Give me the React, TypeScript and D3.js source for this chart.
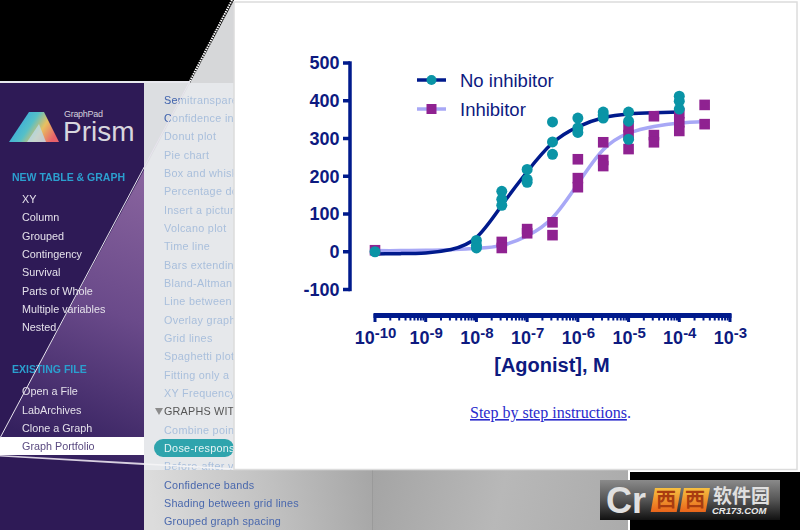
import React from "react";
import * as d3 from "d3";

const yTicks = [-100, 0, 100, 200, 300, 400, 500];
const xExps = [-10, -9, -8, -7, -6, -5, -4, -3];

const teal: [number, number][] = [
  [-10, 0],
  [-8, 30], [-8, 17], [-8, 10],
  [-7.5, 160], [-7.5, 139], [-7.5, 123],
  [-7, 218], [-7, 192], [-7, 184],
  [-6.5, 344], [-6.5, 291], [-6.5, 258],
  [-6, 354], [-6, 328], [-6, 316],
  [-5.5, 370], [-5.5, 362], [-5.5, 354],
  [-5, 370], [-5, 346], [-5, 298],
  [-4, 412], [-4, 399], [-4, 378],
];
const purple: [number, number][] = [
  [-10, 4],
  [-7.5, 26], [-7.5, 10],
  [-7, 60], [-7, 49],
  [-6.5, 78], [-6.5, 44],
  [-6, 245], [-6, 195], [-6, 171],
  [-5.5, 290], [-5.5, 243], [-5.5, 227],
  [-5, 330], [-5, 309], [-5, 272],
  [-4.5, 359], [-4.5, 309], [-4.5, 290],
  [-4, 367], [-4, 343], [-4, 320],
  [-3.5, 389], [-3.5, 338],
];
const curveDark: [number, number][] = [
  [-10, -6], [-9.5, -5], [-9, -3], [-8.5, 6], [-8, 38], [-7.5, 123], [-7, 212],
  [-6.5, 288], [-6, 331], [-5.5, 355], [-5, 365], [-4.5, 368], [-4, 370],
];
const curveLight: [number, number][] = [
  [-10, 3], [-9.5, 3], [-9, 4], [-8.5, 5], [-8, 9], [-7.5, 17], [-7, 42], [-6.5, 90],
  [-6, 180], [-5.5, 270], [-5, 314], [-4.5, 332], [-4, 341], [-3.5, 345],
];

const menuLeft: [string, number][] = [
  ["XY", 199], ["Column", 217], ["Grouped", 236], ["Contingency", 254], ["Survival", 272],
  ["Parts of Whole", 291], ["Multiple variables", 309], ["Nested", 327],
  ["Open a File", 391], ["LabArchives", 410], ["Clone a Graph", 428],
];
const menuMid: [string, number][] = [
  ["Semitransparent", 100], ["Confidence intervals", 118], ["Donut plot", 136], ["Pie chart", 155],
  ["Box and whiskers", 173], ["Percentage done", 191], ["Insert a picture", 210], ["Volcano plot", 228],
  ["Time line", 246], ["Bars extending", 265], ["Bland-Altman", 283], ["Line between", 301],
  ["Overlay graphs", 320], ["Grid lines", 338], ["Spaghetti plot", 356], ["Fitting only a", 375],
  ["XY Frequency", 393], ["Combine points", 430], ["Before-after v", 466],
];
const menuMidTop: [string, number][] = [
  ["Semitransparent", 100], ["Confidence intervals", 118],
];
const menuMidDark: [string, number][] = [
  ["Confidence bands", 485], ["Shading between grid lines", 503], ["Grouped graph spacing", 521],
];

const NAVY = "#001a8c";
const TEXT = "#0d1a80";
const TEAL = "#0a94a6";
const PURPLE = "#8f2291";
const LIGHT = "#a8a8f6";
const SANS = "'Liberation Sans', Arial, sans-serif";

const x = d3.scaleLog().domain([1e-10, 1e-3]).range([375, 730]);
const y = d3.scaleLinear().domain([-100, 500]).range([289.5, 63]);
const px = (e: number) => x(Math.pow(10, e));
const line = d3.line<[number, number]>().x((d) => px(d[0])).y((d) => y(d[1])).curve(d3.curveNatural);
const minorTicks = x.ticks().filter((t) => !xExps.some((e) => Math.abs(Math.log10(t) - e) < 1e-6));

export default function App() {
  return (
    <svg width={800} height={530} style={{ position: "fixed", left: 0, top: 0, display: "block" }}>
      <defs>
        <linearGradient id="cone" x1="150" y1="170" x2="40" y2="440" gradientUnits="userSpaceOnUse">
          <stop offset="0" stopColor="#8a659f" />
          <stop offset="0.5" stopColor="#6a4a8a" />
          <stop offset="1" stopColor="#35215f" />
        </linearGradient>
        <linearGradient id="bottomGrey" x1="150" y1="500" x2="372" y2="470" gradientUnits="userSpaceOnUse">
          <stop offset="0" stopColor="#dcdcdc" />
          <stop offset="0.55" stopColor="#c0c0c0" />
          <stop offset="1" stopColor="#a6a6a6" />
        </linearGradient>
        <linearGradient id="rightGrey" x1="372" y1="470" x2="628" y2="530" gradientUnits="userSpaceOnUse">
          <stop offset="0" stopColor="#a4a4a4" />
          <stop offset="0.5" stopColor="#b8b8b8" />
          <stop offset="1" stopColor="#ababab" />
        </linearGradient>
        <linearGradient id="wm" x1="0" y1="0" x2="0" y2="1">
          <stop offset="0" stopColor="#8a8a8a" />
          <stop offset="0.5" stopColor="#555" />
          <stop offset="1" stopColor="#111" />
        </linearGradient>
        <linearGradient id="wmO" x1="0" y1="0" x2="0" y2="1">
          <stop offset="0" stopColor="#f7c040" />
          <stop offset="1" stopColor="#e8641a" />
        </linearGradient>
        <linearGradient id="prism" x1="0" y1="0.2" x2="1" y2="0.6">
          <stop offset="0" stopColor="#2a9fe6" />
          <stop offset="0.45" stopColor="#55c0c8" />
          <stop offset="0.7" stopColor="#e8c060" />
          <stop offset="1" stopColor="#e8606a" />
        </linearGradient>
        <clipPath id="outsideCone"><polygon points="144,83 190,83 144,170" /></clipPath>
        <filter id="blur"><feGaussianBlur stdDeviation="0.35" /></filter>
      </defs>

      {/* backdrop */}
      <rect width={800} height={530} fill="#ffffff" />
      <rect width={234} height={83} fill="#000" />
      <rect x={628} y={470} width={172} height={60} fill="#000" />
      <rect x={628} y={470} width={172} height={2} fill="#fff" />
      <rect x={628} y={470} width={2} height={60} fill="#fff" />

      {/* left sidebar */}
      <rect x={0} y={83} width={144} height={447} fill="#2e1a56" />
      <polygon points="144,170 0,438 0,455 144,464" fill="url(#cone)" />
      <rect x={0} y={437} width={144} height={18} fill="#ffffff" />
      <polygon points="0,455 144,463 144,465 0,456.5" fill="#d8d0e0" />
      <rect x={0} y={81} width={190} height={2} fill="#e8e8ee" />

      {/* middle list */}
      <rect x={144} y={83} width={90} height={387} fill="#e6e8eb" />
      <polygon points="234,0 190,83 234,83" fill="#d6d7d9" />
      <polygon points="190,83 144,170 144,83" fill="#dcdee1" />
      <rect x={144} y={470} width={228} height={60} fill="url(#bottomGrey)" />
      <rect x={372} y={470} width={256} height={60} fill="url(#rightGrey)" />
      <rect x={372} y={470} width={1} height={60} fill="#9a9a9a" />
      <rect x={154} y={439} width={80} height={18} rx={9} fill="#2fa4ad" />

      {/* logo */}
      <polygon points="9,142 29,112 44,112 59,142" fill="url(#prism)" />
      <polygon points="27,142 39,124 46,142" fill="#bcdcf0" opacity={0.75} />
      <text x={64} y={117} fontFamily={SANS} fontSize={9} letterSpacing={-0.3} fill="#d4d0dc">GraphPad</text>
      <text x={63} y={141} fontFamily={SANS} fontSize={28} fill="#d8d6de">Prism</text>

      <g fontFamily={SANS} filter="url(#blur)">
        <text x={12} y={181} fontSize={10.5} fontWeight="bold" fill="#2c9fcf">NEW TABLE &amp; GRAPH</text>
        <text x={12} y={373} fontSize={10.5} fontWeight="bold" fill="#2c9fcf">EXISTING FILE</text>
        {menuLeft.map(([t, yy]) => (
          <text key={t} x={22} y={yy + 4} fontSize={10.8} fill="#e4e0ea">{t}</text>
        ))}
        <text x={22} y={450} fontSize={10.8} fill="#5a4a80">Graph Portfolio</text>
        {menuMid.map(([t, yy]) => (
          <text key={t} x={164} y={yy + 4} fontSize={10.8} letterSpacing={0.3} fill="#a9bfdc">{t}</text>
        ))}
        <g clipPath="url(#outsideCone)">
          {menuMidTop.map(([t, yy]) => (
            <text key={t} x={164} y={yy + 4} fontSize={10.8} letterSpacing={0.3} fill="#4a68ad">{t}</text>
          ))}
        </g>
        {menuMidDark.map(([t, yy]) => (
          <text key={t} x={164} y={yy + 4} fontSize={10.8} letterSpacing={0.2} fill="#4a68ad">{t}</text>
        ))}
        <polygon points="155,408 163,408 159,415" fill="#8c8c8c" />
        <text x={164} y={415} fontSize={10.8} letterSpacing={0.2} fill="#555">GRAPHS WITH</text>
        <text x={164} y={452} fontSize={10.8} letterSpacing={0.3} fill="#e6f4f5">Dose-response</text>
      </g>

      {/* cone edge */}
      <line x1={232} y1={0} x2={190} y2={81} stroke="#fff" strokeWidth={2} strokeDasharray="1.5 1" />
      <line x1={190} y1={81} x2={0} y2={438} stroke="#e8e4ee" strokeWidth={1} />
      <line x1={144} y1={464} x2={234} y2={469} stroke="#f4f4f6" strokeWidth={1.5} />

      {/* white panel */}
      <rect x={234} y={2} width={563} height={467.5} fill="#ffffff" stroke="#dcdcdc" strokeWidth={1.5} />

      {/* axes */}
      <g stroke={NAVY} strokeWidth={3.5} fill="none">
        <line x1={350} y1={y(500) - 1.7} x2={350} y2={y(-100) + 1.7} />
        {yTicks.map((t) => <line key={t} x1={343} x2={350} y1={y(t)} y2={y(t)} />)}
      </g>
      <rect x={x(1e-10) - 1.5} y={313} width={x(1e-3) - x(1e-10) + 3} height={5} fill={NAVY} />
      {minorTicks.map((t, i) => (
        <line key={i} x1={x(t)} x2={x(t)} y1={317} y2={320.5} stroke={NAVY} strokeWidth={2} />
      ))}
      {xExps.map((e) => (
        <line key={e} x1={px(e)} x2={px(e)} y1={314} y2={322} stroke={NAVY} strokeWidth={3} />
      ))}
      <g fontFamily={SANS} fontWeight="bold" fill={TEXT}>
        {yTicks.map((t) => (
          <text key={t} x={339.5} y={y(t) + 6.3} fontSize={18} textAnchor="end">{t}</text>
        ))}
        {xExps.map((e) => (
          <text key={e} x={px(e) + 0.5} y={344} fontSize={18} textAnchor="middle">
            10<tspan fontSize={15} dy={-6.5}>{e}</tspan>
          </text>
        ))}
        <text x={552} y={372} fontSize={20} textAnchor="middle">[Agonist], M</text>
      </g>

      {/* curves and points */}
      <path d={line(curveLight) ?? ""} fill="none" stroke={LIGHT} strokeWidth={3.5} />
      <path d={line(curveDark) ?? ""} fill="none" stroke={NAVY} strokeWidth={3.5} />
      {purple.map(([e, v], i) => (
        <rect key={i} x={px(e) - 5.3} y={y(v) - 5.3} width={10.6} height={10.6} fill={PURPLE} />
      ))}
      {teal.map(([e, v], i) => (
        <circle key={i} cx={px(e)} cy={y(v)} r={5.5} fill={TEAL} />
      ))}

      {/* legend */}
      <line x1={417} x2={446} y1={80} y2={80} stroke={NAVY} strokeWidth={3.5} />
      <circle cx={431.5} cy={80} r={5} fill={TEAL} />
      <line x1={417} x2={446} y1={109} y2={109} stroke={LIGHT} strokeWidth={3.5} />
      <rect x={426.5} y={104} width={10} height={10} fill={PURPLE} />
      <text x={460} y={87} fontFamily={SANS} fontSize={18.5} fill={TEXT}>No inhibitor</text>
      <text x={460} y={116} fontFamily={SANS} fontSize={18.5} fill={TEXT}>Inhibitor</text>

      <text x={470} y={418} fontFamily="'Liberation Serif', serif" fontSize={16} fill="#2a2acc">
        <tspan textDecoration="underline">Step by step instructions</tspan>.
      </text>

      {/* watermark */}
      <rect x={600} y={480} width={180} height={40} fill="url(#wm)" />
      <text x={606} y={513} fontFamily={SANS} fontSize={36} fontWeight="bold" fill="#e0e0e0">Cr</text>
      <rect x={653} y={488} width={26} height={24} fill="url(#wmO)" transform="skewX(-10) translate(88,0)" />
      <rect x={682} y={488} width={26} height={24} fill="url(#wmO)" transform="skewX(-10) translate(88,0)" />
      <text x={666} y={507} fontFamily="'Noto Sans CJK SC'" fontSize={20} fontWeight="bold" fill="#a83c10" textAnchor="middle">西</text>
      <text x={695} y={507} fontFamily="'Noto Sans CJK SC'" fontSize={20} fontWeight="bold" fill="#a83c10" textAnchor="middle">西</text>
      <text x={713} y={503} fontFamily="'Noto Sans CJK SC'" fontSize={19} fontWeight="bold" fill="#e0e0e0">软件园</text>
      <text x={712} y={514} fontFamily={SANS} fontSize={9.5} fontStyle="italic" fontWeight="bold" fill="#e8e8e8">CR173.COM</text>
    </svg>
  );
}
